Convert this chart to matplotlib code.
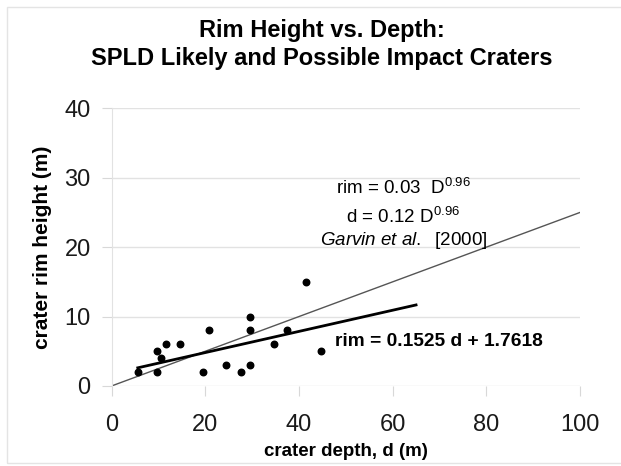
import matplotlib
matplotlib.use("Agg")
import matplotlib.pyplot as plt
import numpy as np
from matplotlib.patches import Rectangle

plt.rcParams['font.family'] = ['Liberation Sans', 'DejaVu Sans']
plt.rcParams['mathtext.fontset'] = 'custom'
plt.rcParams['mathtext.rm'] = 'Liberation Sans'
plt.rcParams['mathtext.it'] = 'Liberation Sans:italic'

# crater depth (m) and rim height (m)
depth = [5.6, 9.7, 9.7, 10.6, 11.6, 14.7, 19.5, 20.8, 24.4, 27.7,
         29.6, 29.6, 29.6, 34.6, 37.5, 41.6, 44.7]
rim = [2, 2, 5, 4, 6, 6, 2, 8, 3, 2,
       3, 8, 10, 6, 8, 15, 5]

# linear fit shown on the chart
fit_slope = 0.1525
fit_icpt = 1.7618
fit_range = [5.6, 65]

# Garvin et al. [2000]: rim = 0.03 D^0.96, d = 0.12 D^0.96  ->  rim = 0.25 d
garvin_ratio = 0.03 / 0.12
garvin_range = [0, 100]

xticks = [0, 20, 40, 60, 80, 100]
yticks = [0, 10, 20, 30, 40]

fig = plt.figure(figsize=(6.21, 4.66), dpi=100)
ax = fig.add_axes([0.1796, 0.1717, 0.7544, 0.5959])

# light frame around the picture (right edge runs off the image)
fig.patches.append(Rectangle((7 / 621, 3 / 466), 700 / 621, 456 / 466,
                             transform=fig.transFigure, fill=False,
                             edgecolor='#e4e4e4', linewidth=1))

ax.set_xlim(0, 100)
ax.set_ylim(0, 40)
ax.set_xticks(xticks)
ax.set_yticks(yticks)
ax.grid(axis='y', color='#e2e2e2', linewidth=1)
for s in ['top', 'right', 'bottom']:
    ax.spines[s].set_visible(False)
ax.spines['left'].set_color('#e2e2e2')
ax.tick_params(axis='both', colors='#d8d8d8', labelcolor='#1a1a1a',
               labelsize=17, length=7)
ax.tick_params(axis='x', pad=13)
ax.tick_params(axis='y', pad=8)

gx = np.array(garvin_range)
ax.plot(gx, garvin_ratio * gx, color='#555555', linewidth=1)

fx = np.array(fit_range)
ax.plot(fx, fit_slope * fx + fit_icpt, color='black', linewidth=2)

ax.scatter(depth, rim, s=22, color='black', zorder=3)

ax.set_xlabel('crater depth, d (m)', fontsize=13.5, fontweight='bold', labelpad=5)
ax.set_ylabel('crater rim height (m)', fontsize=15, fontweight='bold', labelpad=9)

fig.text(322 / 621, 1 - 30 / 466, 'Rim Height vs. Depth:', ha='center', va='center',
         fontsize=17, fontweight='bold')
fig.text(322 / 621, 1 - 58 / 466, 'SPLD Likely and Possible Impact Craters',
         ha='center', va='center', fontsize=17, fontweight='bold')

ax.text(62.3, 28.5, r'rim = 0.03  D$^{0.96}$', ha='center', va='center', fontsize=13.5)
ax.text(62.3, 24.3, r'd = 0.12 D$^{0.96}$', ha='center', va='center', fontsize=13.5)
ax.text(62.3, 21.0, r'$\it{Garvin\ et\ al.}$  [2000]', ha='center', va='center', fontsize=13.5)
ax.text(47.8, 6.4, 'rim = 0.1525 d + 1.7618', ha='left', va='center',
        fontsize=13.8, fontweight='bold')

fig.savefig('out.png', dpi=100)
